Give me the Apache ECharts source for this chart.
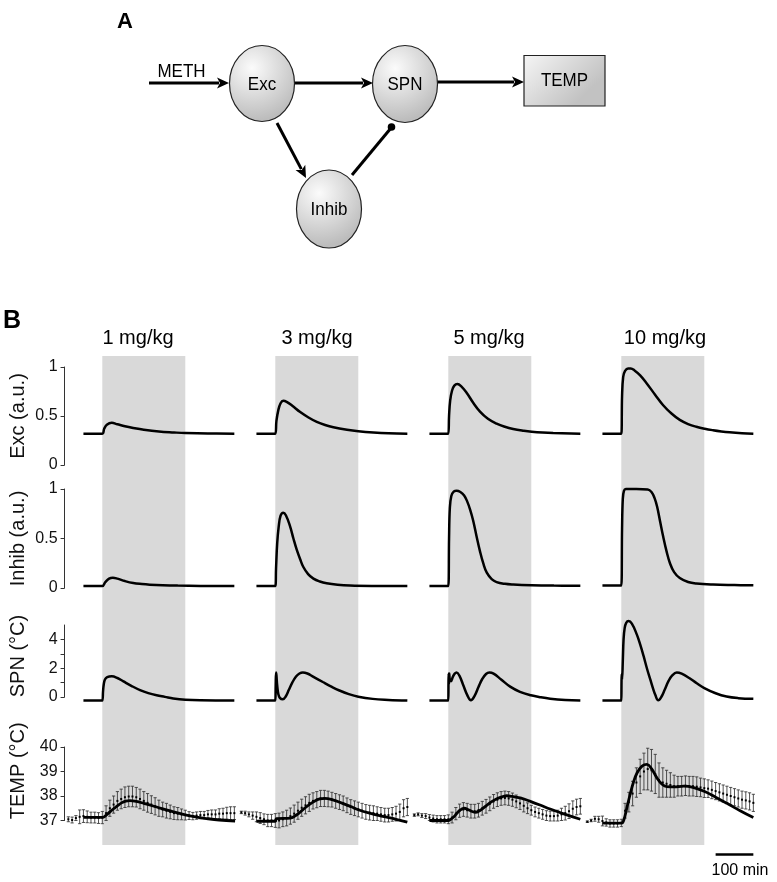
<!DOCTYPE html>
<html>
<head>
<meta charset="utf-8">
<script src="https://cdn.jsdelivr.net/npm/echarts@6/dist/echarts.min.js"></script>
<style>html,body{margin:0;padding:0;background:#fff}#c{width:777px;height:882px}</style>
</head>
<body>
<div id="c"></div>
<script>
// ---------------- DATA ----------------
const doses = ['1 mg/kg', '3 mg/kg', '5 mg/kg', '10 mg/kg'];
const rowNames = ['Exc (a.u.)', 'Inhib (a.u.)', 'SPN (°C)', 'TEMP (°C)'];

// tick values / tick labels per row
const excTicks = [0, 0.5, 1];
const inhibTicks = [0, 0.5, 1];
const spnTicks = [0, 1, 2, 3, 4];
const spnLabels = [0, 2, 4];
const tempTicks = [37, 38, 39, 40];

// grey band (minutes after METH)
const bandStart = 0;
const bandEnd = 220;
// scale bar (minutes)
const scaleBarMinutes = 100;
const scaleBarLabel = '100 min';

// model curves: [time (min), value]
const excModel1 = [[-50,0.32],[0,0.32],[5,0.37],[12,0.41],[25,0.43],[40,0.415],[60,0.395],[82,0.378],[110,0.36],[150,0.342],[190,0.332],[220,0.326],[280,0.321],[350,0.32]];
const excModel2 = [[-50,0.32],[0,0.32],[3,0.45],[8,0.56],[14,0.63],[21,0.655],[30,0.645],[45,0.605],[66,0.54],[88,0.485],[110,0.44],[132,0.408],[154,0.385],[190,0.36],[220,0.345],[260,0.332],[300,0.324],[350,0.32]];
const excModel3 = [[-50,0.32],[0,0.32],[2,0.5],[5,0.66],[10,0.76],[16,0.81],[24,0.826],[35,0.8],[49,0.735],[66,0.635],[84,0.545],[105,0.472],[128,0.422],[150,0.39],[172,0.368],[200,0.35],[221,0.34],[250,0.331],[278,0.326],[350,0.32]];
const excModel4 = [[-50,0.32],[0,0.32],[2,0.7],[5,0.9],[10,0.96],[18,0.985],[25,0.985],[35,0.965],[50,0.915],[67,0.835],[90,0.715],[111,0.61],[133,0.525],[155,0.46],[177,0.418],[199,0.39],[221,0.37],[243,0.355],[265,0.343],[287,0.334],[320,0.325],[350,0.32]];

const inhModel1 = [[-50,0.02],[0,0.02],[8,0.06],[18,0.095],[28,0.104],[40,0.095],[60,0.07],[82,0.05],[105,0.04],[126,0.034],[160,0.028],[200,0.024],[260,0.021],[350,0.02]];
const inhModel2 = [[-50,0.02],[0,0.02],[2,0.2],[5,0.45],[9,0.62],[14,0.73],[21,0.76],[28,0.735],[39,0.625],[48,0.5],[57,0.385],[66,0.29],[74,0.215],[87,0.14],[101,0.095],[118,0.066],[136,0.048],[165,0.033],[198,0.025],[260,0.021],[350,0.02]];
const inhModel3 = [[-50,0.02],[0,0.02],[2,0.5],[4,0.8],[8,0.93],[15,0.975],[22,0.983],[32,0.97],[42,0.935],[50,0.875],[58,0.79],[66,0.68],[75,0.52],[84,0.37],[93,0.245],[102,0.155],[115,0.09],[128,0.06],[150,0.042],[172,0.035],[221,0.028],[280,0.024],[350,0.022]];
const inhModel4 = [[-50,0.025],[0,0.025],[2,0.6],[4,0.9],[7,0.98],[12,1.0],[40,1.0],[70,0.995],[80,0.97],[88,0.91],[95,0.82],[103,0.67],[111,0.52],[120,0.37],[129,0.25],[140,0.16],[155,0.1],[177,0.06],[199,0.045],[243,0.035],[300,0.03],[350,0.027]];

const spnModel1 = [[-50,-0.25],[0,-0.25],[2,0.4],[4,0.9],[7,1.22],[13,1.38],[25,1.44],[40,1.32],[56,1.08],[78,0.76],[100,0.48],[122,0.27],[144,0.12],[166,0.01],[188,-0.1],[220,-0.19],[260,-0.23],[350,-0.25]];
const spnModel2 = [[-50,-0.25],[0,-0.25],[1,0.8],[2,1.7],[3,1.5],[5,0.8],[8,0.2],[12,-0.06],[20,-0.16],[28,0.05],[36,0.5],[45,1.0],[55,1.42],[64,1.63],[73,1.7],[85,1.63],[100,1.42],[126,1.04],[150,0.7],[170,0.45],[195,0.2],[220,0.02],[258,-0.13],[300,-0.2],[350,-0.25]];
const spnModel3 = [[-50,-0.25],[0,-0.25],[0.5,1.0],[1,1.63],[1.7,0.9],[2.5,1.63],[4,1.2],[7,1.1],[12,1.4],[17,1.62],[22,1.7],[30,1.45],[40,0.8],[50,0.15],[60,-0.23],[70,0.1],[80,0.7],[90,1.25],[100,1.6],[109,1.7],[120,1.62],[140,1.22],[164,0.72],[190,0.36],[219,0.12],[245,-0.02],[270,-0.12],[310,-0.21],[350,-0.25]];
const spnModel4 = [[-50,-0.25],[0,-0.25],[0.5,0.8],[1,1.6],[2,1.2],[4,2.5],[6,4.0],[9,4.8],[13,5.15],[19,5.27],[28,5.1],[41,4.35],[50,3.65],[59,2.85],[68,1.98],[77,1.2],[84,0.6],[90,0.15],[98,-0.23],[106,0.0],[115,0.5],[125,1.1],[135,1.5],[147,1.7],[160,1.62],[180,1.32],[200,0.95],[220,0.62],[250,0.26],[279,0.03],[310,-0.08],[350,-0.13]];

const tempModel1 = [[-50,37.13],[0,37.13],[5,37.15],[15,37.28],[29,37.47],[40,37.6],[51,37.72],[62,37.79],[73,37.81],[90,37.78],[110,37.7],[144,37.55],[180,37.39],[220,37.23],[250,37.14],[276,37.08],[310,37.02],[352,36.98]];
const tempModel2 = [[-50,36.97],[0,36.97],[3,37.08],[40,37.1],[52,37.18],[63,37.3],[76,37.48],[90,37.65],[105,37.8],[118,37.88],[131,37.9],[150,37.85],[175,37.72],[200,37.57],[220,37.44],[250,37.3],[285,37.17],[320,37.05],[350,36.93]];
const tempModel3 = [[-50,37.0],[0,37.0],[4,37.02],[15,37.15],[28,37.38],[42,37.5],[55,37.43],[71,37.33],[85,37.42],[100,37.6],[115,37.77],[130,37.9],[145,37.98],[155,38.01],[170,37.98],[195,37.9],[219,37.77],[245,37.62],[270,37.47],[310,37.25],[350,37.05]];
const tempModel4 = [[-50,36.89],[0,36.89],[4,36.92],[10,37.2],[16,37.6],[23,38.04],[32,38.55],[42,38.95],[55,39.22],[68,39.29],[80,39.12],[94,38.75],[108,38.48],[121,38.38],[140,38.37],[165,38.4],[190,38.35],[221,38.18],[250,37.95],[280,37.7],[315,37.4],[350,37.12]];

// measured temperature (mean ± error) every 10 min
const tempTime = [-90,-80,-70,-60,-50,-40,-30,-20,-10,0,10,20,30,40,50,60,70,80,90,100,110,120,130,140,150,160,170,180,190,200,210,220,230,240,250,260,270,280,290,300,310,320,330,340,350];
const tempMean1 = [37.05,37.02,37.1,37.15,37.18,37.15,37.12,37.12,37.1,37.12,37.3,37.5,37.65,37.8,37.88,37.95,37.98,37.98,37.95,37.88,37.8,37.72,37.65,37.58,37.5,37.45,37.4,37.35,37.3,37.28,37.25,37.22,37.2,37.18,37.2,37.22,37.22,37.25,37.25,37.25,37.28,37.28,37.3,37.3,37.3];
const tempErr1 = [0.1,0.12,0.1,0.28,0.26,0.24,0.22,0.22,0.22,0.25,0.3,0.33,0.35,0.38,0.4,0.42,0.42,0.42,0.4,0.4,0.38,0.38,0.36,0.35,0.33,0.3,0.3,0.28,0.26,0.25,0.22,0.2,0.16,0.15,0.15,0.15,0.15,0.16,0.18,0.18,0.2,0.22,0.24,0.26,0.26];
const tempMean2 = [37.33,37.3,37.25,37.2,37.15,37.1,37.05,37.0,37.0,37.0,37.0,37.05,37.1,37.18,37.28,37.4,37.52,37.62,37.72,37.8,37.85,37.9,37.9,37.88,37.85,37.8,37.75,37.7,37.62,37.55,37.5,37.45,37.4,37.35,37.32,37.3,37.28,37.25,37.22,37.22,37.25,37.28,37.35,37.5,37.55];
const tempErr2 = [0.05,0.08,0.1,0.15,0.2,0.22,0.22,0.25,0.25,0.28,0.3,0.3,0.32,0.33,0.35,0.35,0.35,0.35,0.35,0.33,0.33,0.33,0.33,0.32,0.3,0.3,0.3,0.3,0.3,0.3,0.3,0.3,0.3,0.3,0.3,0.3,0.28,0.28,0.28,0.28,0.28,0.3,0.32,0.35,0.35];
const tempMean3 = [37.22,37.25,37.2,37.18,37.12,37.08,37.05,37.05,37.05,37.05,37.12,37.28,37.4,37.45,37.42,37.38,37.38,37.42,37.5,37.58,37.68,37.78,37.85,37.9,37.92,37.9,37.85,37.78,37.7,37.6,37.5,37.42,37.35,37.3,37.25,37.2,37.18,37.18,37.2,37.25,37.3,37.38,37.48,37.55,37.58];
const tempErr3 = [0.05,0.06,0.08,0.1,0.12,0.14,0.15,0.15,0.15,0.18,0.22,0.25,0.27,0.28,0.28,0.28,0.28,0.28,0.28,0.28,0.28,0.28,0.28,0.28,0.28,0.28,0.27,0.26,0.25,0.25,0.22,0.2,0.2,0.2,0.2,0.2,0.2,0.2,0.22,0.25,0.28,0.3,0.32,0.32,0.32];
const tempMean4 = [36.95,37.0,37.07,37.05,36.98,36.92,36.88,36.88,36.88,36.9,37.4,37.75,38.1,38.55,38.8,39.0,39.1,39.05,38.9,38.65,38.55,38.5,38.45,38.4,38.4,38.4,38.42,38.4,38.4,38.38,38.35,38.32,38.3,38.25,38.2,38.15,38.1,38.05,38.0,37.95,37.9,37.85,37.82,37.78,37.72];
const tempErr4 = [0.03,0.05,0.1,0.12,0.2,0.15,0.15,0.15,0.15,0.15,0.3,0.4,0.5,0.6,0.7,0.75,0.85,0.85,0.8,0.7,0.6,0.55,0.5,0.45,0.4,0.4,0.4,0.4,0.4,0.4,0.38,0.38,0.36,0.36,0.35,0.35,0.35,0.35,0.35,0.35,0.35,0.35,0.35,0.35,0.35];

// ---------------- LAYOUT ----------------
const FONT = '"Liberation Sans", Arial, Helvetica, sans-serif';
const PX_PER_MIN = 83 / 220;
const X_MIN = -100, X_MAX = 360;
const colBandLeft = [102.3, 275.3, 448.3, 621.3];
const titleCenter = [138, 317, 489, 665];
const rows = [
  {top: 367, height: 98, min: 0, max: 1, ticks: excTicks, labels: excTicks, namePad: 0},
  {top: 489, height: 99, min: 0, max: 1, ticks: inhibTicks, labels: inhibTicks, namePad: 0},
  {top: 625, height: 72, min: 0, max: 5, ticks: spnTicks, labels: spnLabels, namePad: 10},
  {top: 747, height: 73.5, min: 37, max: 40, ticks: tempTicks, labels: tempTicks, namePad: 26}
];
const models = [
  [excModel1, excModel2, excModel3, excModel4],
  [inhModel1, inhModel2, inhModel3, inhModel4],
  [spnModel1, spnModel2, spnModel3, spnModel4],
  [tempModel1, tempModel2, tempModel3, tempModel4]
];
const tempMeans = [tempMean1, tempMean2, tempMean3, tempMean4];
const tempErrs = [tempErr1, tempErr2, tempErr3, tempErr4];

function renderBand(params, api) {
  const p0 = api.coord([api.value(0), 1]);
  const p1 = api.coord([api.value(1), 0]);
  return {type: 'rect', shape: {x: p0[0], y: p0[1], width: p1[0] - p0[0], height: p1[1] - p0[1]},
          style: {fill: '#d9d9d9'}};
}
function renderErr(params, api) {
  const t = api.value(0), m = api.value(1), e = api.value(2);
  const a = api.coord([t, m + e]), b = api.coord([t, m - e]), c = api.coord([t, m]);
  const cap = 1.6, st = {stroke: '#333', lineWidth: 0.85};
  return {type: 'group', children: [
    {type: 'line', shape: {x1: a[0], y1: a[1], x2: b[0], y2: b[1]}, style: st},
    {type: 'line', shape: {x1: a[0] - cap, y1: a[1], x2: a[0] + cap, y2: a[1]}, style: st},
    {type: 'line', shape: {x1: b[0] - cap, y1: b[1], x2: b[0] + cap, y2: b[1]}, style: st},
    {type: 'rect', shape: {x: c[0] - 1, y: c[1] - 1, width: 2, height: 2}, style: {fill: '#000'}}
  ]};
}

const grid = [], xAxis = [], yAxis = [], series = [];
for (let c = 0; c < 4; c++) {
  const left = colBandLeft[c] + X_MIN * PX_PER_MIN;
  const width = (X_MAX - X_MIN) * PX_PER_MIN;
  let gi = grid.length;
  grid.push({left: left, top: 356, width: width, height: 489});
  xAxis.push({gridIndex: gi, type: 'value', min: X_MIN, max: X_MAX, show: false});
  yAxis.push({gridIndex: gi, type: 'value', min: 0, max: 1, show: false});
  series.push({type: 'custom', xAxisIndex: gi, yAxisIndex: gi, z: 0, silent: true,
    encode: {x: [0, 1]}, data: [[bandStart, bandEnd]], renderItem: renderBand});

  for (let r = 0; r < 4; r++) {
    const R = rows[r];
    gi = grid.length;
    grid.push({left: left, top: R.top, width: width, height: R.height});
    xAxis.push({gridIndex: gi, type: 'value', min: X_MIN, max: X_MAX, show: false});
    const ya = {gridIndex: gi, type: 'value', min: R.min, max: R.max, show: c === 0,
      splitLine: {show: false}};
    if (c === 0) {
      Object.assign(ya, {
        axisLine: {show: true, onZero: false, lineStyle: {color: '#333', width: 1}},
        axisTick: {show: true, inside: false, length: 4, customValues: R.ticks, lineStyle: {color: '#333', width: 1}},
        axisLabel: {show: true, customValues: R.labels, fontSize: 16, color: '#111', margin: 7, fontFamily: FONT},
        name: rowNames[r], nameLocation: 'middle', nameRotate: 90, nameGap: 36,
        nameTextStyle: {fontSize: 20, color: '#111', fontFamily: FONT, padding: [0, 0, 0, R.namePad]}
      });
    }
    yAxis.push(ya);
    series.push({type: 'line', xAxisIndex: gi, yAxisIndex: gi, data: models[r][c],
      showSymbol: false, smooth: 0.4, clip: false, z: 5, silent: true,
      lineStyle: {color: '#000', width: r === 3 ? 2.8 : 2.5}});
    if (r === 3) {
      series.push({type: 'custom', xAxisIndex: gi, yAxisIndex: gi, z: 4, silent: true, clip: false,
        encode: {x: 0, y: 1},
        data: tempTime.map((t, i) => [t, tempMeans[c][i], tempErrs[c][i]]),
        renderItem: renderErr});
    }
  }
}

// ---------------- DIAGRAM (panel A) and annotations ----------------
function arrow(x0, y0, x1, y1) {
  const dx = x1 - x0, dy = y1 - y0, L = Math.hypot(dx, dy), ux = dx / L, uy = dy / L;
  const hl = 12, hw = 5.5;
  const bx = x1 - ux * hl, by = y1 - uy * hl;
  return [
    {type: 'line', shape: {x1: x0, y1: y0, x2: bx + ux * 2, y2: by + uy * 2}, style: {stroke: '#000', lineWidth: 3}},
    {type: 'polygon', shape: {points: [[x1, y1], [bx - uy * hw, by + ux * hw], [bx + ux * 3, by + uy * 3], [bx + uy * hw, by - ux * hw]]}, style: {fill: '#000'}}
  ];
}
const nodeFill = {type: 'radial', x: 0.35, y: 0.3, r: 0.8,
  colorStops: [{offset: 0, color: '#fbfbfb'}, {offset: 1, color: '#bcbcbc'}]};
const txt = (x, y, s, size, sy) => ({type: 'text', x: x, y: y, scaleY: sy || 1,
  style: {text: s, fill: '#000', font: size + 'px ' + FONT, textAlign: 'center', textVerticalAlign: 'middle'}});
function node(cx, cy, rx, ry, label) {
  return [
    {type: 'ellipse', shape: {cx: cx, cy: cy, rx: rx, ry: ry}, style: {fill: nodeFill, stroke: '#222', lineWidth: 1.2}},
    txt(cx, cy + 1, label, 17, 1.12)
  ];
}

const graphic = [].concat(
  [{type: 'text', left: 117, top: 11, style: {text: 'A', fill: '#000', font: 'bold 22px ' + FONT}}],
  [{type: 'text', left: 3, top: 309, style: {text: 'B', fill: '#000', font: 'bold 25px ' + FONT}}],
  arrow(149, 83, 229, 83),
  [txt(181.5, 72, 'METH', 17, 1.12)],
  arrow(295, 83, 373, 83),
  arrow(437, 82, 524, 82),
  arrow(277, 123, 306, 178),
  [{type: 'line', shape: {x1: 352, y1: 175, x2: 391, y2: 128}, style: {stroke: '#000', lineWidth: 3}},
   {type: 'circle', shape: {cx: 391.5, cy: 127, r: 3.8}, style: {fill: '#000'}}],
  node(262, 83.5, 32.5, 38, 'Exc'),
  node(405, 84, 32.5, 38.5, 'SPN'),
  node(329, 209, 32.5, 39, 'Inhib'),
  [{type: 'rect', shape: {x: 524, y: 55.5, width: 81, height: 50.5},
    style: {fill: {type: 'linear', x: 0, y: 0, x2: 0.6, y2: 1, colorStops: [{offset: 0, color: '#f6f6f6'}, {offset: 1, color: '#c2c2c2'}]}, stroke: '#222', lineWidth: 1.2}},
   txt(564.5, 81, 'TEMP', 17, 1.12)],
  doses.map((d, i) => txt(titleCenter[i], 338, d, 20)),
  [{type: 'line', shape: {x1: colBandLeft[3] + (350 - scaleBarMinutes) * PX_PER_MIN, y1: 854.5,
     x2: colBandLeft[3] + 350 * PX_PER_MIN, y2: 854.5}, style: {stroke: '#000', lineWidth: 2.5}},
   txt(740, 870.5, scaleBarLabel, 16)]
);

const chart = echarts.init(document.getElementById('c'), null, {renderer: 'canvas', width: 777, height: 882});
chart.setOption({
  animation: false,
  backgroundColor: '#fff',
  textStyle: {fontFamily: FONT},
  grid: grid, xAxis: xAxis, yAxis: yAxis, series: series,
  graphic: graphic
});
</script>
</body>
</html>
